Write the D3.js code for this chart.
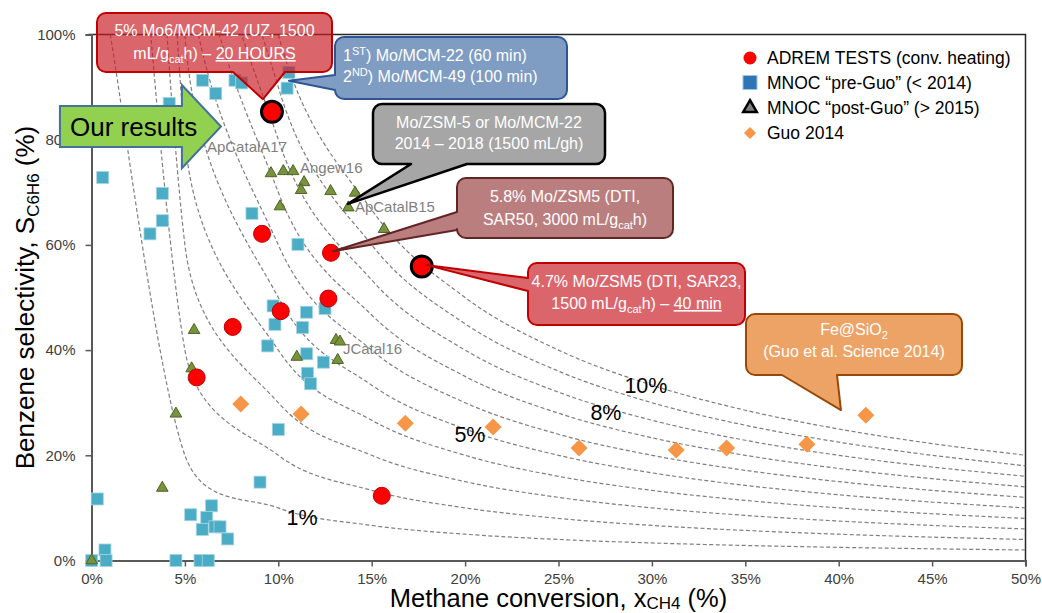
<!DOCTYPE html>
<html><head><meta charset="utf-8">
<script src="https://cdn.jsdelivr.net/npm/d3@7"></script>
<style>
body{margin:0;background:#fff;}
svg{display:block;font-family:"Liberation Sans",Arial,sans-serif;}
</style></head><body>
<svg id="chart" width="1042" height="613"></svg>
<script>
// ---------------- DATA ----------------
const xTicks = [0, 5, 10, 15, 20, 25, 30, 35, 40, 45, 50];
const yTicks = [0, 20, 40, 60, 80, 100];

// ADREM TESTS (conv. heating): methane conversion (%), benzene selectivity (%)
const adremX = [9.66, 9.13, 12.82, 12.68, 10.13, 7.56, 5.63, 17.68, 15.54];
const adremS = [85.3, 62.1, 58.5, 49.8, 47.4, 44.4, 34.8, 55.9, 12.3];
const adremHighlight = [1, 0, 0, 0, 0, 0, 0, 1, 0];

// MNOC "pre-Guo" (< 2014)
const preGuoX = [0.60, 3.79, 3.79, 3.13, 4.16, 5.94, 6.65, 7.68, 8.04, 10.57, 10.47, 8.59, 11.05,
  9.72, 9.82, 9.43, 11.51, 11.30, 12.50, 11.52, 12.41, 11.56, 11.73, 10.0, 9.02, 0.31, 0.72,
  0.01, 0.78, 4.52, 5.81, 6.25, 5.31, 6.43, 6.17, 5.93, 6.61, 6.88, 7.29];
const preGuoS = [72.8, 69.8, 64.6, 62.1, 86.9, 91.3, 88.8, 91.3, 90.8, 92.8, 89.8, 66.0, 60.1,
  48.4, 44.9, 40.8, 47.2, 44.3, 47.9, 39.3, 37.7, 35.6, 33.6, 24.9, 14.9, 11.7, 2.0,
  0, 0, 0, 0, 0, 8.7, 10.4, 8.2, 5.9, 6.4, 6.4, 4.1];

// MNOC "post-Guo" (> 2015)
const postGuoX = [0.01, 3.79, 4.52, 5.36, 5.49, 10.09, 9.61, 10.27, 10.79, 11.38, 11.22, 12.80,
  14.11, 13.75, 15.66, 10.99, 13.09, 13.30, 13.18];
const postGuoS = [0, 13.8, 27.9, 36.5, 43.8, 67.3, 73.6, 74.0, 74.0, 71.9, 70.4, 70.2,
  69.9, 67.1, 63.0, 38.7, 41.9, 41.6, 38.1];

// Guo 2014
const guoX = [7.99, 11.22, 16.8, 21.5, 26.1, 31.3, 34.0, 38.3, 41.45];
const guoS = [29.75, 27.85, 26.1, 25.4, 21.4, 21.0, 21.4, 22.1, 27.6];

// iso-yield guide lines (benzene yield %), nodes at these conversions
const isoYields = [1, 2, 3, 4, 5, 6, 7, 8, 9, 10];
const isoNodesX = [1, 5, 10, 15, 20, 25, 30, 35, 40, 45, 50];
const isoLabelText = ["1%", "5%", "8%", "10%"];
const isoLabelX = [11.27, 20.26, 27.54, 29.68];
const isoLabelS = [8.1, 23.9, 28.0, 33.2];

// reference labels
const refLabels = ["ApCatalA17", "Angew16", "ApCatalB15", "JCatal16"];
const refLabelX = [6.18, 11.16, 14.1, 13.46];
const refLabelS = [77.7, 73.6, 66.3, 39.3];

const legendLabels = ["ADREM TESTS (conv. heating)", "MNOC \u201cpre-Guo\u201d (< 2014)",
  "MNOC \u201cpost-Guo\u201d (> 2015)", "Guo 2014"];

// ---------------- CHART ----------------
const svg = d3.select("#chart");
const x = d3.scaleLinear().domain([0, 50]).range([91.5, 1025.5]);
const y = d3.scaleLinear().domain([0, 100]).range([560.5, 34.5]);

svg.append("defs").append("clipPath").attr("id", "plotclip")
  .append("rect").attr("x", x(0)).attr("y", y(100)).attr("width", x(50) - x(0)).attr("height", y(0) - y(100));

// frame (top and right)
svg.append("path")
  .attr("d", `M${x(0) - 3},${y(100)}H${x(50)}V${y(0)}`)
  .attr("fill", "none").attr("stroke", "#262626").attr("stroke-width", 1.5);

// axes
const gx = svg.append("g").attr("transform", `translate(0,${y(0)})`)
  .call(d3.axisBottom(x).tickValues(xTicks).tickFormat(d => d + "%").tickSizeOuter(0).tickSize(6).tickPadding(7));
const gy = svg.append("g").attr("transform", `translate(${x(0)},0)`)
  .call(d3.axisLeft(y).tickValues(yTicks).tickFormat(d => d + "%").tickSizeOuter(0).tickSize(6).tickPadding(10));
[gx, gy].forEach(g => {
  g.select(".domain").attr("stroke", "#595959").attr("stroke-width", 2);
  g.selectAll(".tick line").attr("stroke", "#595959").attr("stroke-width", 1.5);
  g.selectAll(".tick text").attr("fill", "#404040").attr("font-size", 15)
    .attr("font-family", "'Liberation Sans', Arial, sans-serif");
});

// smoothed (spreadsheet-style) Bezier through scaled points
function smoothPath(pts) {
  const p = d3.path();
  p.moveTo(pts[0][0], pts[0][1]);
  const dist = (a, b) => Math.hypot(b[0] - a[0], b[1] - a[1]);
  for (let i = 0; i < pts.length - 1; i++) {
    const P0 = pts[i - 1] || pts[i], P1 = pts[i], P2 = pts[i + 1], P3 = pts[i + 2] || pts[i + 1];
    const d12 = dist(P1, P2);
    const d02 = dist(P0, P2), d13 = dist(P1, P3);
    let f = 1 / 6, g = 1 / 6;
    if (d02 * f > d12 / 2) f = d12 / 2 / d02;
    if (d13 * g > d12 / 2) g = d12 / 2 / d13;
    const c1 = [P1[0] + (P2[0] - P0[0]) * f, P1[1] + (P2[1] - P0[1]) * f];
    const c2 = [P2[0] - (P3[0] - P1[0]) * g, P2[1] - (P3[1] - P1[1]) * g];
    p.bezierCurveTo(c1[0], c1[1], c2[0], c2[1], P2[0], P2[1]);
  }
  return p.toString();
}

// iso-yield curves (selectivity = yield / conversion)
svg.append("g").attr("clip-path", "url(#plotclip)")
  .selectAll("path").data(isoYields).join("path")
  .attr("d", Y => smoothPath(isoNodesX.map(v => [x(v), y(Y / v * 100)])))
  .attr("fill", "none").attr("stroke", "#7f7f7f").attr("stroke-width", 1.2)
  .attr("stroke-dasharray", "4 2.5");

// pre-Guo squares
svg.append("g").selectAll("rect").data(preGuoX.map((v, i) => [v, preGuoS[i]])).join("rect")
  .attr("x", d => x(d[0]) - 6).attr("y", d => y(d[1]) - 6).attr("width", 12).attr("height", 12)
  .attr("fill", "#4bacc6").attr("stroke", "#a5d5e2").attr("stroke-width", 0.8);

// post-Guo triangles
const tri = d3.symbol().type(d3.symbolTriangle).size(58);
svg.append("g").selectAll("path").data(postGuoX.map((v, i) => [v, postGuoS[i]])).join("path")
  .attr("d", tri).attr("transform", d => `translate(${x(d[0])},${y(d[1])})`)
  .attr("fill", "#77933c").attr("stroke", "#4f6228").attr("stroke-width", 1);

// Guo diamonds
svg.append("g").selectAll("path").data(guoX.map((v, i) => [v, guoS[i]])).join("path")
  .attr("d", "M0,-8.5L8.5,0L0,8.5L-8.5,0Z").attr("transform", d => `translate(${x(d[0])},${y(d[1])})`)
  .attr("fill", "#f79646");

// ADREM circles
svg.append("g").selectAll("circle").data(adremX.map((v, i) => [v, adremS[i], adremHighlight[i]])).join("circle")
  .attr("cx", d => x(d[0])).attr("cy", d => y(d[1]))
  .attr("r", d => d[2] ? 10.5 : 8.5)
  .attr("fill", "#ff0000")
  .attr("stroke", d => d[2] ? "#000" : "#c00000")
  .attr("stroke-width", d => d[2] ? 3 : 1);

// reference labels
svg.append("g").selectAll("text").data(refLabels).join("text")
  .attr("x", (d, i) => x(refLabelX[i])).attr("y", (d, i) => y(refLabelS[i]))
  .attr("font-size", 15).attr("fill", "#7f7f7f").text(d => d);

// iso labels
svg.append("g").selectAll("text").data(isoLabelText).join("text")
  .attr("x", (d, i) => x(isoLabelX[i])).attr("y", (d, i) => y(isoLabelS[i]))
  .attr("text-anchor", "middle").attr("dominant-baseline", "central")
  .attr("font-size", 21.5).attr("fill", "#000").text(d => d);

// rich text helper: segments [text, type], type in sub/sup/u
function richText(t, segs, subSize, subDy, supDy) {
  let shift = 0;
  segs.forEach(seg => {
    const ts = t.append("tspan").text(seg[0]);
    let target = 0;
    if (seg[1] === "sub") { target = subDy; ts.attr("font-size", subSize); }
    if (seg[1] === "sup") { target = -supDy; ts.attr("font-size", subSize); }
    if (seg[1] === "u") ts.attr("text-decoration", "underline");
    if (target !== shift) ts.attr("dy", target - shift);
    shift = target;
  });
}

// ---------------- CALLOUTS ----------------
function calloutPath(b, side, base, tip, r) {
  const [x0, y0, x1, y1] = b;
  let p = `M${x0 + r},${y0}H${x1 - r}A${r},${r} 0 0 1 ${x1},${y0 + r}V${y1 - r}A${r},${r} 0 0 1 ${x1 - r},${y1}`;
  if (side === "bottom") p += `H${base[1]}L${tip[0]},${tip[1]}L${base[0]},${y1}`;
  p += `H${x0 + r}A${r},${r} 0 0 1 ${x0},${y1 - r}`;
  if (side === "left") p += `V${base[1]}L${tip[0]},${tip[1]}L${x0},${base[0]}`;
  p += `V${y0 + r}A${r},${r} 0 0 1 ${x0 + r},${y0}Z`;
  return p;
}
// tip points given in data units (conversion %, selectivity %)
const callouts = [
  { box: [97, 13, 332, 72], side: "bottom", base: [233, 285], tip: [9.18, 87.7],
    fill: "rgba(200,30,38,0.68)", stroke: "#c00000", anchor: "middle", tx: 214.5,
    lines: [[["5% Mo6/MCM-42 (UZ, 1500"]], [["mL/g"], ["cat", "sub"], ["h) \u2013 "], ["20 HOURS", "u"]]], ty: [36, 59] },
  { box: [335, 37, 567, 99], side: "left", base: [75, 90], tip: [10.57, 91.2],
    fill: "#7f9cc2", stroke: "#2f5597", anchor: "start", tx: 343,
    lines: [[["1"], ["ST", "sup"], [") Mo/MCM-22 (60 min)"]], [["2"], ["ND", "sup"], [") Mo/MCM-49 (100 min)"]]], ty: [61, 82] },
  { box: [373, 104, 605, 164], side: "bottom", base: [411, 467], tip: [13.73, 67.8],
    fill: "#a6a6a6", stroke: "#000", sw: 2.5, anchor: "middle", tx: 489,
    lines: [[["Mo/ZSM-5 or Mo/MCM-22"]], [["2014 \u2013 2018 (1500 mL/gh)"]]], ty: [128, 149] },
  { box: [457, 178, 673, 238], side: "left", base: [212, 230], tip: [12.93, 58.8],
    fill: "#bb7e7f", stroke: "#632523", anchor: "middle", tx: 565,
    lines: [[["5.8% Mo/ZSM5 (DTI,"]], [["SAR50, 3000 mL/g"], ["cat", "sub"], ["h)"]]], ty: [202, 225] },
  { box: [528, 263, 745, 325], side: "left", base: [278, 291], tip: [17.9, 56.2],
    fill: "rgba(200,30,38,0.68)", stroke: "#c00000", anchor: "middle", tx: 636.5,
    lines: [[["4.7% Mo/ZSM5 (DTI, SAR23,"]], [["1500 mL/g"], ["cat", "sub"], ["h) \u2013 "], ["40 min", "u"]]], ty: [287, 309] },
  { box: [746, 314, 962, 375], side: "bottom", base: [782, 837], tip: [40.12, 28.6],
    fill: "#eda366", stroke: "#984807", anchor: "middle", tx: 854,
    lines: [[["Fe@SiO"], ["2", "sub"]], [["(Guo et al. Science 2014)"]]], ty: [335, 357] }
];
const cg = svg.append("g");
callouts.forEach(c => {
  cg.append("path")
    .attr("d", calloutPath(c.box, c.side, c.base, [x(c.tip[0]), y(c.tip[1])], 9))
    .attr("fill", c.fill).attr("stroke", c.stroke).attr("stroke-width", c.sw || 2)
    .attr("stroke-linejoin", "round");
  c.lines.forEach((ln, li) => {
    const t = cg.append("text").attr("x", c.tx).attr("y", c.ty[li])
      .attr("text-anchor", c.anchor).attr("fill", "#fff").attr("font-size", 16);
    richText(t, ln, 11, 3.5, 6);
  });
});

// "Our results" arrow
const ax0 = x(-1.69), axb = x(4.84), axt = x(6.93);
const ay0 = y(86.4), ay1 = y(78.6), ayh0 = y(90.4), ayh1 = y(74.6), aym = y(82.5);
svg.append("path")
  .attr("d", `M${ax0},${ay0}H${axb}V${ayh0}L${axt},${aym}L${axb},${ayh1}V${ay1}H${ax0}Z`)
  .attr("fill", "#92d050").attr("stroke", "#41719c").attr("stroke-width", 2).attr("stroke-linejoin", "miter");
svg.append("text").attr("x", x(-1.15)).attr("y", aym + 9).attr("font-size", 26).attr("fill", "#000")
  .text("Our results");

// ---------------- LEGEND ----------------
const lg = svg.append("g");
const ly = [58, 83, 108, 133];
lg.append("circle").attr("cx", 750).attr("cy", ly[0]).attr("r", 6.5).attr("fill", "#ff0000");
lg.append("rect").attr("x", 743).attr("y", ly[1] - 7.5).attr("width", 14).attr("height", 14)
  .attr("fill", "#2e75b6").attr("stroke", "#9dc3e6").attr("stroke-width", 1);
lg.append("path").attr("d", d3.symbol().type(d3.symbolTriangle).size(80)())
  .attr("transform", `translate(750,${ly[2]})`)
  .attr("fill", "#7f7f7f").attr("stroke", "#000").attr("stroke-width", 2.5).attr("stroke-linejoin", "miter");
lg.append("path").attr("d", "M0,-6L6,0L0,6L-6,0Z").attr("transform", `translate(750,${ly[3]})`)
  .attr("fill", "#f79646");
lg.selectAll("text.lt").data(legendLabels).join("text").attr("class", "lt")
  .attr("x", 767).attr("y", (d, i) => ly[i]).attr("dominant-baseline", "central")
  .attr("font-size", 17.5).attr("fill", "#000").text(d => d);

// ---------------- AXIS TITLES ----------------
const xt = svg.append("text").attr("x", (x(0) + x(50)) / 2).attr("y", 606.5)
  .attr("text-anchor", "middle").attr("font-size", 25.5).attr("fill", "#000");
richText(xt, [["Methane conversion, x"], ["CH4", "sub"], [" (%)"]], 17, 2.5, 8);

const yt = svg.append("text").attr("transform", `translate(34,${(y(0) + y(100)) / 2}) rotate(-90)`)
  .attr("text-anchor", "middle").attr("font-size", 26).attr("fill", "#000");
richText(yt, [["Benzene selectivity, S"], ["C6H6", "sub"], [" (%)"]], 17, 5, 8);
</script>
</body></html>
